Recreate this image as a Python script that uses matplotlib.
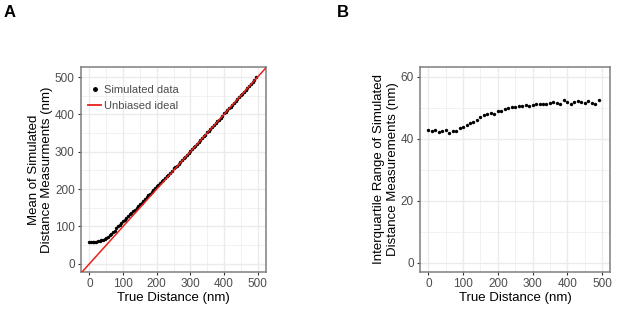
import matplotlib
matplotlib.use("Agg")
import matplotlib.pyplot as plt
from matplotlib.ticker import MultipleLocator
from matplotlib.lines import Line2D

plt.rcParams['font.family'] = ['Liberation Sans', 'DejaVu Sans']

# Panel A: mean of simulated measurements vs true distance
true_a = list(range(0, 500, 5))
mean_a = [57, 57, 58, 58, 59, 60, 61, 63, 65, 67,
          70, 73, 77, 81, 85, 89, 97, 100, 104, 108,
          114, 118, 123, 127, 132, 136, 141, 145, 150, 155,
          160, 164, 169, 174, 179, 183, 188, 193, 198, 203,
          208, 212, 216, 221, 225, 230, 235, 239, 244, 249,
          256, 258, 263, 268, 273, 277, 282, 287, 292, 297,
          302, 307, 312, 316, 321, 327, 331, 336, 341, 346,
          352, 356, 361, 366, 371, 377, 382, 386, 391, 396,
          403, 407, 411, 416, 421, 426, 431, 436, 441, 447,
          451, 456, 461, 466, 471, 476, 481, 486, 492, 499]

# Panel B: interquartile range vs true distance
true_b = list(range(0, 500, 10))
iqr_b = [42.7, 42.5, 42.9, 42.3, 42.5, 42.7, 42.0, 42.5, 42.4, 43.6,
         43.8, 44.6, 45.0, 45.3, 46.0, 47.0, 47.6, 48.0, 48.2, 48.1,
         49.1, 49.0, 49.5, 50.0, 50.4, 50.3, 50.5, 50.7, 51.0, 50.5,
         51.0, 51.4, 51.3, 51.3, 51.3, 51.7, 52.0, 51.5, 51.2, 52.4,
         51.9, 51.3, 51.9, 52.1, 52.0, 51.7, 52.3, 51.5, 51.4, 52.4]

xticks = [0, 100, 200, 300, 400, 500]
yticks_a = [0, 100, 200, 300, 400, 500]
yticks_b = [0, 20, 40, 60]

fig = plt.figure(figsize=(6.17, 3.11), dpi=100)
axA = fig.add_axes([0.1313, 0.1254, 0.2998, 0.6592])
axB = fig.add_axes([0.6807, 0.1254, 0.3080, 0.6592])

GRID = '#EBEBEB'
TXT = '#4D4D4D'

def style(ax, major_x, minor_x, major_y, minor_y):
    ax.set_facecolor('white')
    ax.xaxis.set_major_locator(MultipleLocator(major_x))
    ax.xaxis.set_minor_locator(MultipleLocator(minor_x))
    ax.yaxis.set_major_locator(MultipleLocator(major_y))
    ax.yaxis.set_minor_locator(MultipleLocator(minor_y))
    ax.grid(True, which='major', color=GRID, lw=1.0, zorder=0)
    ax.grid(True, which='minor', color=GRID, lw=0.5, zorder=0)
    ax.set_axisbelow(True)
    for s in ax.spines.values():
        s.set_color('#7F7F7F')
        s.set_linewidth(1.1)
    ax.tick_params(which='major', length=2.5, width=0.8, color='#333333',
                   labelsize=8.5, labelcolor=TXT, pad=2)
    ax.tick_params(which='minor', length=0)

# Panel A
axA.scatter(true_a, mean_a, s=6, color='black', zorder=3, linewidths=0)
axA.axline((0, 0), slope=1, color='#E8211C', lw=1.1, zorder=4)
axA.set_xlim(-25, 525)
axA.set_ylim(-22, 527)
axA.set_xticks(xticks)
axA.set_yticks(yticks_a)
style(axA, 100, 50, 100, 50)
axA.set_xlabel('True Distance (nm)', fontsize=9.5, labelpad=1)
axA.set_ylabel('Mean of Simulated\nDistance Measurments (nm)', fontsize=9.5,
               labelpad=1, linespacing=1.2)
handles = [Line2D([], [], marker='o', ls='none', color='black', markersize=2.5),
           Line2D([], [], color='#E8211C', lw=1.3)]
axA.legend(handles, ['Simulated data', 'Unbiased ideal'], loc='upper left',
           frameon=False, fontsize=8, labelcolor=TXT, handlelength=1.2,
           handletextpad=0.2, borderaxespad=0.4, labelspacing=0.55,
           bbox_to_anchor=(-0.01, 0.955))

# Panel B
axB.scatter(true_b, iqr_b, s=6, color='black', zorder=3, linewidths=0)
axB.set_xlim(-24, 523)
axB.set_ylim(-3, 63.2)
axB.set_xticks(xticks)
axB.set_yticks(yticks_b)
style(axB, 100, 50, 20, 10)
axB.set_xlabel('True Distance (nm)', fontsize=9.5, labelpad=1)
axB.set_ylabel('Interquartile Range of Simulated\nDistance Measurements (nm)',
               fontsize=9.5, labelpad=1, linespacing=1.2)

fig.text(0.005, 0.985, 'A', fontsize=12, fontweight='bold', va='top')
fig.text(0.546, 0.985, 'B', fontsize=12, fontweight='bold', va='top')

fig.savefig('out.png', dpi=100, facecolor='white')
